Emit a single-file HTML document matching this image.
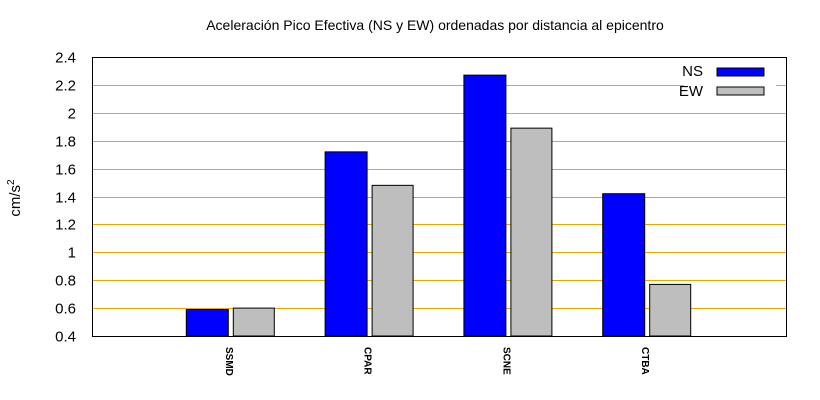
<!DOCTYPE html>
<html><head><meta charset="utf-8"><style>
body{margin:0;background:#fff;}
svg{display:block;font-family:"Liberation Sans",sans-serif;}
</style></head><body>
<svg id="chart" width="820" height="400" viewBox="0 0 820 400">
<text x="435" y="30" text-anchor="middle" font-size="14">Aceleración Pico Efectiva (NS y EW) ordenadas por distancia al epicentro</text>
<text transform="translate(20,198) rotate(-90)" text-anchor="middle" font-size="15">cm/s<tspan dy="-6" font-size="10">2</tspan></text>
<g id="grid"></g><g id="bars"></g><g id="axes"></g>
<g>
<rect x="684" y="62" width="92" height="38" fill="#fff"/>
<text x="703" y="76" text-anchor="end" font-size="15">NS</text>
<rect x="717" y="68" width="47" height="8" fill="#0000ff" stroke="#000"/>
<text x="703" y="96" text-anchor="end" font-size="15">EW</text>
<rect x="717" y="87" width="47" height="8" fill="#bebebe" stroke="#000"/>
</g>
</svg>
<script>
const categories=["SSMD","CPAR","SCNE","CTBA"];
const nsValues=[0.59,1.72,2.27,1.42];
const ewValues=[0.60,1.48,1.89,0.77];
const yTicks=[0.4,0.6,0.8,1,1.2,1.4,1.6,1.8,2,2.2,2.4];
const NS="http://www.w3.org/2000/svg";
const L=92,R=786,T=57,B=336,yMin=0.4,yMax=2.4;
const y=v=>B-(v-yMin)/(yMax-yMin)*(B-T);
const x=i=>L+(i+1)*(R-L)/(categories.length+1);
function mk(tag,attrs,parent){const e=document.createElementNS(NS,tag);for(const k in attrs)e.setAttribute(k,attrs[k]);parent.appendChild(e);return e;}
const grid=document.getElementById('grid'),bars=document.getElementById('bars'),axes=document.getElementById('axes');
yTicks.forEach(t=>{
  const yy=Math.round(y(t))+0.5;
  if(t>yMin&&t<yMax){const g=mk('line',{x1:L,x2:R,y1:yy,y2:yy,stroke:'#e8a800','stroke-width':1},grid);
  
  }
  const tk=mk('text',{x:L-16,y:yy+5,'text-anchor':'end','font-size':15},axes);
  tk.textContent=String(t);
  
  
});
categories.forEach((c,i)=>{
  const cx=x(i);
  const b1=mk('rect',{x:cx-44.5,y:y(nsValues[i]),width:42,height:B-y(nsValues[i]),fill:'#0000ff',stroke:'#000'},bars);
  
  
  const b2=mk('rect',{x:cx+2.5,y:y(ewValues[i]),width:41,height:B-y(ewValues[i]),fill:'#bebebe',stroke:'#000'},bars);
  
  
  const lb=mk('text',{transform:`translate(${cx-5},347) rotate(90)`,'font-size':10,'font-weight':'bold'},axes);
  lb.textContent=c;
  
  
});
const fr=mk('rect',{x:L+0.5,y:T+0.5,width:R-L,height:B-T,fill:'none',stroke:'#000'},axes);


</script>
</body></html>
